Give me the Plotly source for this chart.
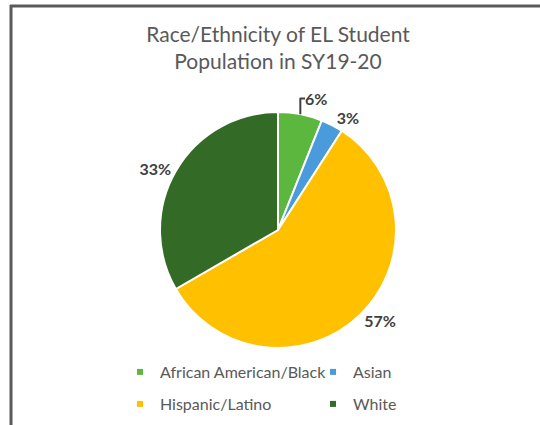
import plotly.graph_objects as go

categories = ["African American/Black", "Asian", "Hispanic/Latino", "White"]
values = [6, 3, 57, 33]
colors = ["#5CB73E", "#4A9BDC", "#FFC000", "#336B26"]
legend_rows = ["legend", "legend", "legend2", "legend2"]

W, H = 540, 425
FONT = "Lato, 'Open Sans', sans-serif"

fig = go.Figure()

cx, cy, r = 278, 230, 118
fig.add_trace(go.Pie(
    labels=categories,
    values=values,
    sort=False,
    direction="clockwise",
    rotation=0,
    marker=dict(colors=colors, line=dict(color="white", width=2)),
    textposition="outside",
    texttemplate="%{value}%",
    textfont=dict(family=FONT, size=16, color="#404040", weight="bold"),
    showlegend=False,
    hoverinfo="label+percent",
    domain=dict(x=[(cx - r) / W, (cx + r) / W], y=[(H - cy - r) / H, (H - cy + r) / H]),
    automargin=False,
))

for cat, col, lg in zip(categories, colors, legend_rows):
    fig.add_trace(go.Scatter(
        x=[None], y=[None], mode="markers", name=cat,
        marker=dict(symbol="square", size=6, color=col),
        legend=lg, showlegend=True, hoverinfo="skip",
    ))

legend_common = dict(
    orientation="h",
    entrywidth=148,
    entrywidthmode="pixels",
    font=dict(family=FONT, size=16, color="#595959"),
    bgcolor="rgba(0,0,0,0)",
    borderwidth=0,
    xanchor="left",
    yanchor="middle",
)

fig.update_layout(
    width=W, height=H,
    margin=dict(l=0, r=0, t=0, b=0),
    paper_bgcolor="white",
    plot_bgcolor="white",
    title=dict(
        text="Race/Ethnicity of EL Student<br>Population in SY19-20",
        x=278 / W, xanchor="center",
        y=1 - 42 / H, yanchor="middle",
        font=dict(family=FONT, size=21, color="#595959"),
    ),
    xaxis=dict(visible=False),
    yaxis=dict(visible=False),
    legend=dict(x=120 / W, y=1 - 372 / H, **legend_common),
    legend2=dict(x=120 / W, y=1 - 404 / H, **legend_common),
    shapes=[
        dict(type="line", xref="paper", yref="paper", x0=10 / W, x1=1, y0=1 - 6 / H, y1=1 - 6 / H,
             line=dict(color="#5A5A5A", width=3)),
        dict(type="line", xref="paper", yref="paper", x0=11 / W, x1=11 / W, y0=0, y1=1 - 5 / H,
             line=dict(color="#5A5A5A", width=3)),
    ],
)

fig.write_html(
    "out.html",
    config={"displayModeBar": False},
    post_script="document.body.style.margin='0';document.body.style.overflow='hidden';",
)
